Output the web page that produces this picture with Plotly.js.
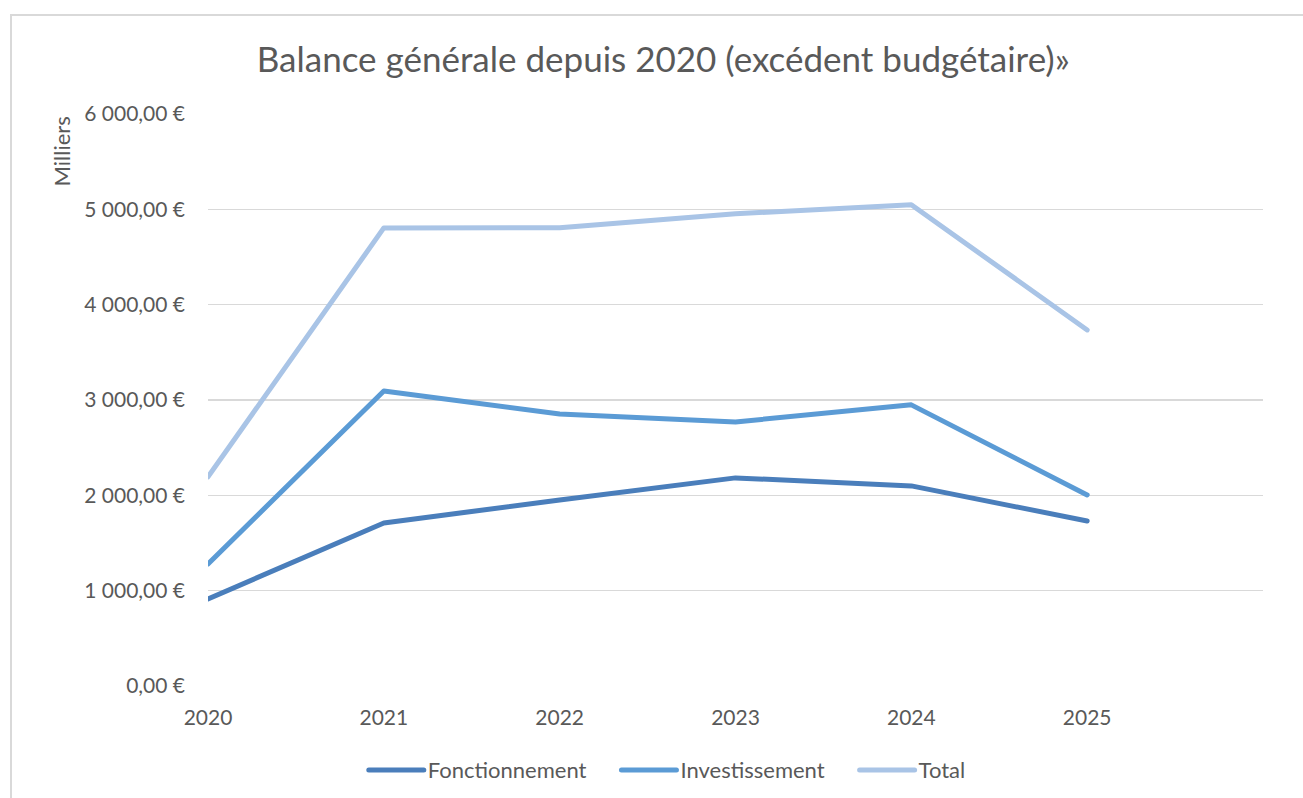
<!DOCTYPE html>
<html><head><meta charset="utf-8">
<script src="https://cdn.plot.ly/plotly-3.0.1.min.js"></script>
<style>
html,body{margin:0;padding:0;background:#fff;}
#wrap{position:relative;width:1303px;height:798px;overflow:hidden;}
#frame{position:absolute;left:10px;top:14px;width:1400px;height:900px;border:2px solid #d9d9d9;box-sizing:border-box;}
#chart{position:absolute;left:0;top:0;width:1303px;height:798px;}
</style></head>
<body><div id="wrap"><div id="frame"></div><div id="chart"></div></div>
<script>
const years = [2020, 2021, 2022, 2023, 2024, 2025];
const fonctionnement = [913, 1710, 1952, 2183, 2099, 1731];
const investissement = [1280, 3095, 2854, 2770, 2949, 2004];
const total = [2193, 4805, 4806, 4953, 5048, 3735];
const yTickVals = [0, 1000, 2000, 3000, 4000, 5000, 6000];
const yTickText = ["0,00 €", "1 000,00 €", "2 000,00 €", "3 000,00 €", "4 000,00 €", "5 000,00 €", "6 000,00 €"];
const seriesNames = ["Fonctionnement", "Investissement", "Total"];
const colors = ["#4a7ebb", "#5b9bd5", "#a9c4e6"];

const font = "Lato, 'Open Sans', sans-serif";
const vals = [fonctionnement, investissement, total];
const traces = vals.map((v, i) => ({
  x: years, y: v, name: seriesNames[i], type: "scatter", mode: "lines",
  line: {color: colors[i], width: 5}
}));

const layout = {
  width: 1303, height: 798,
  paper_bgcolor: "rgba(0,0,0,0)", plot_bgcolor: "rgba(0,0,0,0)",
  margin: {l: 208, r: 40, t: 114, b: 112, autoexpand: false},
  font: {family: font, color: "#595959"},
  title: {text: "Balance générale depuis 2020 (excédent budgétaire)»", x: 0.509, xanchor: "center", y: 0.925, yanchor: "middle",
          font: {family: font, size: 35, color: "#595959"}},
  xaxis: {range: [2020, 2026], tickvals: years, ticktext: years.map(String), showgrid: false, zeroline: false,
          showline: false, ticks: "", tickfont: {size: 21, color: "#595959"}, ticklabelstandoff: 17, automargin: false},
  yaxis: {range: [0, 6000], tickvals: yTickVals, ticktext: yTickText, showgrid: true, gridcolor: "#d9d9d9", gridwidth: 1.5,
          zeroline: false, showline: false, ticks: "", tickfont: {size: 21, color: "#595959"}, ticklabelstandoff: 22, automargin: false},
  legend: {orientation: "h", x: 0.5, xanchor: "center", y: -0.147, yanchor: "middle", font: {size: 22, color: "#595959"}},
  showlegend: true,
  annotations: [{text: "Milliers", xref: "paper", yref: "paper", x: -0.139, y: 0.935, xanchor: "center", yanchor: "middle",
                 textangle: -90, showarrow: false, font: {size: 22, color: "#595959"}}]
};
Plotly.newPlot("chart", traces, layout, {displayModeBar: false, staticPlot: true}).then(gd => {
  gd.querySelectorAll(".scatterlayer .js-line").forEach(p => {
    p.style.strokeLinecap = "round"; p.style.strokeLinejoin = "round";
  });
  // Excel-style legend: longer line samples, fixed gaps, centred
  const leg = gd.querySelector(".legend");
  if (!leg) return;
  leg.querySelectorAll("[clip-path]").forEach(e => e.removeAttribute("clip-path"));
  const items = Array.from(leg.querySelectorAll(".traces"));
  const lineLen = 55, textGap = 4, itemGap = 35;
  let x = 0;
  items.forEach(t => {
    const path = t.querySelector(".legendlines path");
    const txt = t.querySelector("text.legendtext");
    if (path) { path.setAttribute("d", "M0,0h" + lineLen); path.style.strokeLinecap = "round"; }
    if (txt) txt.setAttribute("x", lineLen + textGap);
    const m = /translate\(([-\d.]+)[ ,]*([-\d.]+)?\)/.exec(t.getAttribute("transform") || "");
    const ty = m && m[2] ? m[2] : 0;
    t.setAttribute("transform", "translate(" + x + "," + ty + ")");
    const w = txt ? txt.getComputedTextLength() : 0;
    x += lineLen + textGap + w + itemGap;
  });
  const W = x - itemGap;
  const first = items[0].querySelector(".legendlines path");
  const left = first.getBoundingClientRect().left - gd.getBoundingClientRect().left;
  const target = 667 - W / 2;
  const lm = /translate\(([-\d.]+)[ ,]*([-\d.]+)?\)/.exec(leg.getAttribute("transform") || "");
  const lx = lm ? parseFloat(lm[1]) : 0, ly = lm && lm[2] ? parseFloat(lm[2]) : 0;
  leg.setAttribute("transform", "translate(" + (lx + target - left) + "," + ly + ")");
  const bg = leg.querySelector(".bg"); if (bg) bg.setAttribute("width", W + 20);
});
</script></body></html>
